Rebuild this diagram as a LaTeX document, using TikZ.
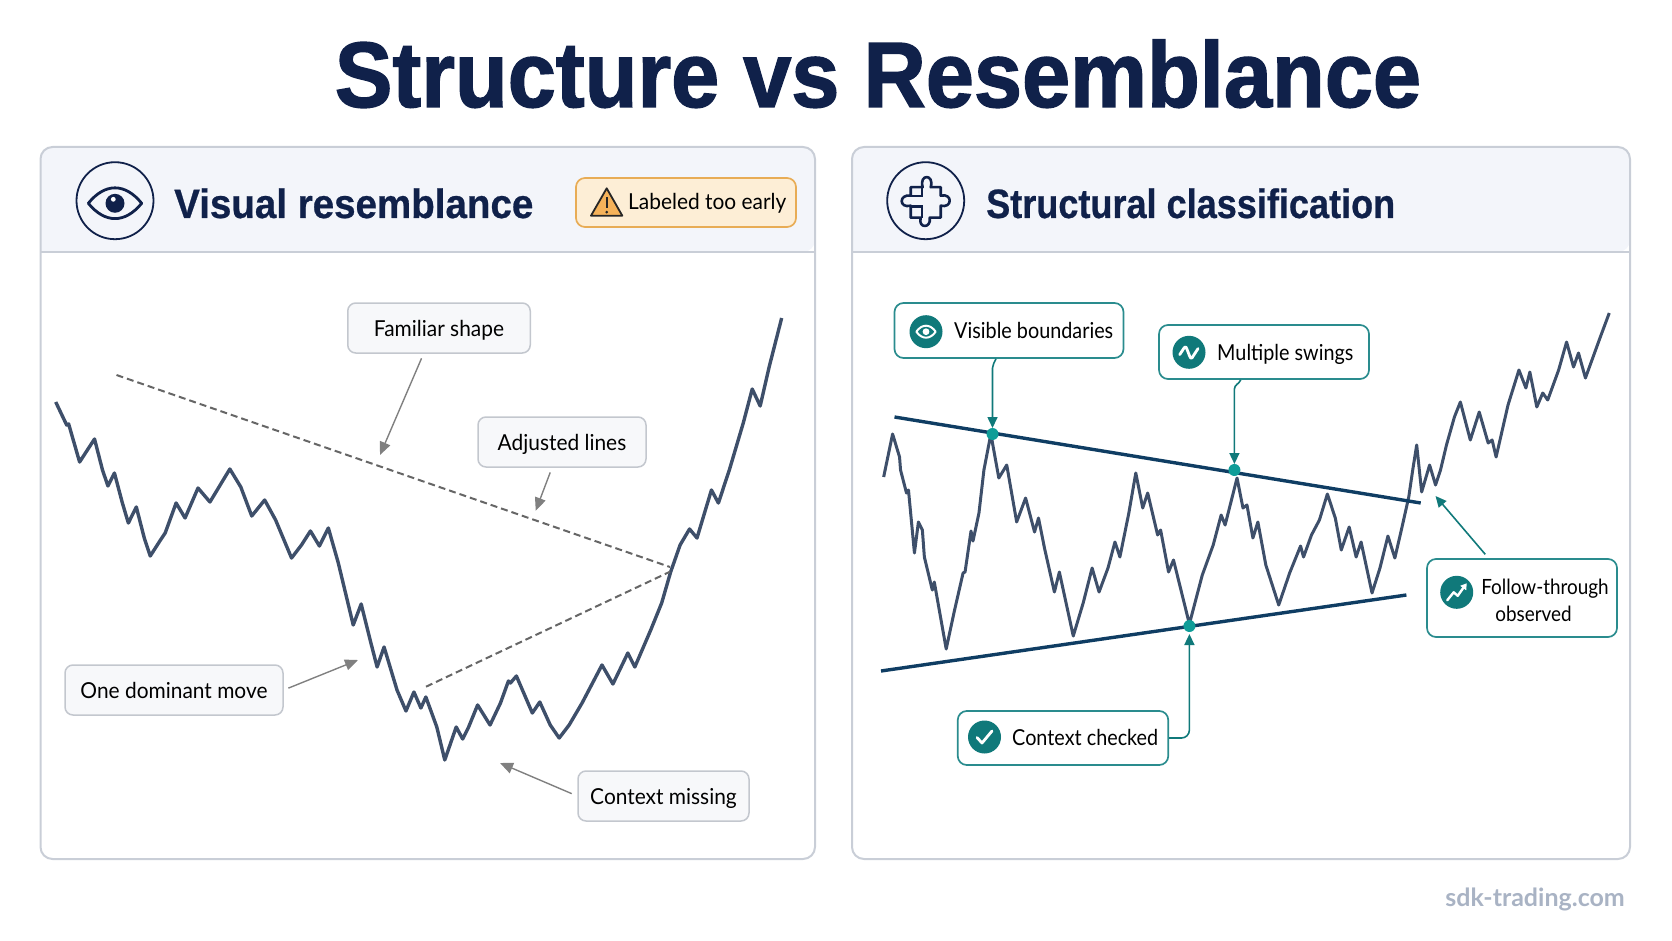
\documentclass[tikz,border=0pt]{standalone}
\usepackage{fontspec}
\setsansfont{Lato}
\newfontfamily\leftfont{Lato}[FakeStretch=0.95]
\newfontfamily\rightfont{Lato}[FakeStretch=0.90]
\newfontfamily\titlefont{Liberation Sans Bold}[FakeStretch=0.93, FakeBold=1.5]
\newfontfamily\headfont{Liberation Sans Bold}[FakeStretch=0.94, FakeBold=0.6]
\newfontfamily\headfontb{Liberation Sans Bold}[FakeStretch=0.88, FakeBold=0.6]
\usetikzlibrary{arrows.meta}
\usetikzlibrary{positioning}
\definecolor{navy}{HTML}{10214A}
\definecolor{inkline}{HTML}{3E4F6A}
\definecolor{trendblue}{HTML}{0F3D63}
\definecolor{tealdark}{HTML}{10797A}
\definecolor{tealedge}{HTML}{2A8C8E}
\definecolor{tealspot}{HTML}{0F9D98}
\definecolor{headbg}{HTML}{F3F5FA}
\definecolor{paneledge}{HTML}{C9CED7}
\definecolor{boxbg}{HTML}{F7F8FA}
\definecolor{boxedge}{HTML}{C3C7CE}
\definecolor{amberbg}{HTML}{FDEED6}
\definecolor{amberedge}{HTML}{E8AC55}
\definecolor{amberfill}{HTML}{F5B25A}
\definecolor{mark}{HTML}{A9B3C4}
\tikzset{every picture/.style={/utils/exec={\sffamily}}}
\tikzset{
  panelbox/.style={draw=paneledge, line width=2pt, rounded corners=12pt, inner sep=0pt},
  iconring/.style={circle, draw=navy, line width=1.8pt, minimum size=77pt, inner sep=0pt},
  headtext/.style={anchor=base west, text=navy, inner sep=0pt},
  plainbox/.style={draw=boxedge, fill=boxbg, line width=1.5pt, rounded corners=8pt, minimum height=50pt, inner sep=0pt, text height=20pt, text depth=3pt, font=\leftfont\fontsize{22}{26}\selectfont},
  tealbox/.style={draw=tealedge, fill=white, line width=1.7pt, rounded corners=9pt, inner sep=0pt},
  tealicon/.style={circle, fill=tealdark, minimum size=33pt, inner sep=0pt},
  tealtext/.style={anchor=base west, inner sep=0pt, font=\rightfont\fontsize{22}{26}\selectfont},
  glyph/.style={draw=white, line width=2.8pt, line cap=round, line join=round},
  priceline/.style={draw=inkline, line width=3.4pt, line join=round},
  trendline/.style={draw=trendblue, line width=3.4pt},
  hintdash/.style={draw=black!60, line width=2pt, dash pattern=on 7pt off 4pt},
  graycall/.style={draw=black!50, line width=1.4pt, -{Triangle[length=13pt, width=11pt]}},
  tealcall/.style={draw=tealdark, line width=1.6pt, -{Triangle[length=11pt, width=10pt]}},
  tealspotdot/.style={circle, fill=tealspot, minimum size=12pt, inner sep=0pt},
}

\begin{document}
\begin{tikzpicture}[x=1pt, y=-1pt]
  \useasboundingbox (0,0) rectangle (1672,941);

  \node [anchor=base, text=navy, inner sep=0pt, font=\titlefont\fontsize{93}{93}\selectfont] (title) at (878,107) {Structure vs Resemblance};

  % left panel
  \fill [headbg] (40.5,252) [rounded corners=12pt] -- (40.5,147) -- (815,147) -- (815,252) [sharp corners] -- cycle;
  \draw [paneledge, line width=2pt] (40.5,252) -- (815,252);
  \node [panelbox, minimum width=774.5pt, minimum height=712pt] (vispanel) at (427.75,503) {};

  \node [iconring] (visring) at (115,200.7) {};
  \begin{scope}[shift={(visring)}]
    \draw [navy, line width=2.8pt, line join=round] (-26.7,2.6) .. controls (-10,-18) and (10,-18) .. (26.7,2.6) .. controls (10,23) and (-10,23) .. cycle;
    \fill [navy] (0,2.6) circle (9.5pt);
    \fill [white] (-1.7,-1.4) circle (2.4pt);
  \end{scope}
  \node [headtext, font=\headfont\fontsize{41}{41}\selectfont] (vistitle) at (174,218) {Visual resemblance};

  \node [draw=amberedge, fill=amberbg, line width=1.7pt, rounded corners=9pt, minimum width=220pt, minimum height=49pt] (early) at (686,202.5) {};
  \draw [fill=amberfill, draw=black!85, line width=1.8pt, line join=round] (606.7,188.3) -- (622.3,215.7) -- (591,215.7) -- cycle;
  \draw [black!85, line width=2.4pt] (606.7,197.5) -- (606.7,208);
  \fill [black!85] (606.7,212.2) circle (1.5pt);
  \node [tealtext, font=\leftfont\fontsize{22}{26}\selectfont] (earlytext) at (628,210) {Labeled too early};

  % chart
  \begin{scope}[x=0.995pt]
    \draw [priceline] (56,402) -- (67,425) -- (69,424) -- (80,462) -- (95,439) -- (103,470) -- (108.5,486) -- (115,473) -- (123,503) -- (129,523) -- (137,507) -- (145,538) -- (151,556) -- (160,542) -- (166,533) -- (177,503) -- (186,518) -- (199,488) -- (211,502) -- (231,469) -- (242,487) -- (253,516) -- (266,500) -- (277,520) -- (293,558) -- (303,545) -- (312,531) -- (321,546) -- (330,528) -- (340,563) -- (355,625) -- (363,604) -- (372,640) -- (379,667) -- (386,647) -- (399,690) -- (408,711) -- (416,692) -- (423,708) -- (428,697) -- (439,727) -- (447,760) -- (458.5,727) -- (465,739) -- (471,727) -- (480,705) -- (492.5,725) -- (503,703) -- (511,681) -- (513,683) -- (519,676) -- (535,713) -- (542.5,702) -- (553,725) -- (562,738) -- (572,725) -- (585,703) -- (605,665) -- (616,684) -- (631,653) -- (638,667) -- (654,630) -- (665,603) -- (674,572) -- (683.5,545) -- (693,529) -- (700.5,538) -- (715,490) -- (722,503) -- (733,470) -- (747,423) -- (756,389) -- (764,406) -- (773,367) -- (785.6,318);
  \end{scope}

  \coordinate (dashtop) at (116.5,375);
  \coordinate (dashlow) at (426,686.7);
  \coordinate (dashmeet) at (670,567);
  \coordinate (dashmeetb) at (670,571.7);
  \draw [hintdash] (dashtop) -- (dashmeet);
  \draw [hintdash] (dashlow) -- (dashmeetb);

  \node [plainbox, minimum width=182.5pt] (fam) at (439,328) {Familiar shape};
  \node [plainbox, minimum width=168pt] (adj) at (562,442) {Adjusted lines};
  \node [plainbox, minimum width=218pt] (dom) at (174,690) {One dominant move};
  \node [plainbox, minimum width=171pt] (ctx) at (663.5,796) {Context missing};

  \coordinate (famtip) at (380,455);
  \coordinate (adjtip) at (535.7,510.7);
  \coordinate (domtip) at (358,660);
  \coordinate (ctxtip) at (500,763);
  \draw [graycall, shorten <=5pt] ([xshift=-15.5pt]fam.south) -- (famtip);
  \draw [graycall, shorten <=5pt] ([xshift=-10pt]adj.south) -- (adjtip);
  \draw [graycall, shorten <=5pt] (dom.east) -- (domtip);
  \draw [graycall, shorten <=6pt] (ctx.west) -- (ctxtip);

  % right panel
  \fill [headbg] (852,252) [rounded corners=12pt] -- (852,147) -- (1630,147) -- (1630,252) [sharp corners] -- cycle;
  \draw [paneledge, line width=2pt] (852,252) -- (1630,252);
  \node [panelbox, minimum width=778pt, minimum height=712pt] (strpanel) at (1241,503) {};

  \node [iconring] (strring) at (925.7,200.7) {};
  \begin{scope}[shift={(strring)}]
    \draw [navy, line width=2.6pt, line join=round] (-3,-13.5) -- (-15,-13.5) -- (-15,-5)
      .. controls (-27,-7) and (-27,8) .. (-15,5) -- (-15,17) -- (-5,17)
      .. controls (-8,28) and (6,28) .. (4,17) -- (15,17) -- (15,5)
      .. controls (27,8) and (27,-8) .. (15,-5) -- (15,-13.5) -- (5,-13.5)
      .. controls (9,-27) and (-7,-27) .. cycle;
    \draw [navy, line width=2.4pt] (-4,-13.5) -- (-4,-4.5) -- (-15,-4.5);
    \draw [navy, line width=2.4pt] (-15,6) -- (-4,6) -- (-4,17);
  \end{scope}
  \node [headtext, font=\headfontb\fontsize{41}{41}\selectfont] (strtitle) at (986,218) {Structural classification};

  % chart
  \begin{scope}[x=0.9926pt, xshift=6.2pt]
    \draw [priceline, line width=3pt] (884,477) -- (893,434) -- (900,457) -- (901,470) -- (907,493) -- (909,490) -- (915,553) -- (919,522) -- (923,530) -- (925,557) -- (933,590) -- (935,582) -- (947,649) -- (955,612) -- (964,573) -- (966,572) -- (972,531) -- (974,541) -- (980,513) -- (985,470) -- (992,434) -- (1000,478) -- (1008,465) -- (1018,522) -- (1027,498) -- (1036,532) -- (1040,518) -- (1046,548) -- (1056,592) -- (1061,572) -- (1075,636) -- (1085,603) -- (1094,568) -- (1101,592) -- (1110,568) -- (1117,542) -- (1122,557) -- (1131,513) -- (1138,473) -- (1145,508) -- (1150,493) -- (1160,535) -- (1163,530) -- (1171,572) -- (1176,560) -- (1192,624) -- (1205,575) -- (1216,545) -- (1224,515) -- (1228,525) -- (1240,478) -- (1246,508) -- (1250,505) -- (1256,538) -- (1261,522) -- (1269,565) -- (1282,605) -- (1293,573) -- (1304,546) -- (1307,557) -- (1315,535) -- (1323,520) -- (1331,494) -- (1339,518) -- (1345,550) -- (1353,527) -- (1360,557) -- (1365,542) -- (1376,593) -- (1384,568) -- (1392,536) -- (1399,558) -- (1406,528) -- (1413,497) -- (1417,470) -- (1421,445) -- (1426,492) -- (1434,465) -- (1440,485) -- (1445,470) -- (1451,445) -- (1459,417) -- (1465,402) -- (1475,440) -- (1484,412) -- (1493,443) -- (1497,440) -- (1501,457) -- (1513,405) -- (1524,370) -- (1531,388) -- (1535,372) -- (1542,407) -- (1548,393) -- (1553,400) -- (1564,370) -- (1572,342) -- (1579,367) -- (1584,353) -- (1591,378) -- (1606,337) -- (1615,313);
  \end{scope}

  \coordinate (upstart) at (894.5,417);
  \coordinate (upend) at (1420.7,503);
  \coordinate (lowstart) at (881,671);
  \coordinate (lowend) at (1406.4,595);
  \draw [trendline] (upstart) -- (upend);
  \draw [trendline] (lowstart) -- (lowend);

  \node [tealspotdot] (visdot) at (992.5,434) {};
  \node [tealspotdot] (mulddot) at (1234.4,470) {};
  \node [tealspotdot] (ctxdot) at (1189.4,626) {};

  \node [tealbox, minimum width=229pt, minimum height=55pt] (vis) at (1009,330.5) {};
  \node [tealicon] (visicon) at (926,331.7) {};
  \begin{scope}[shift={(visicon)}]
    \draw [glyph, line width=2pt] (-9.7,0) .. controls (-4,-8) and (4,-8) .. (9.7,0) .. controls (4,8) and (-4,8) .. cycle;
    \fill [white] (0,0) circle (3.4pt);
  \end{scope}
  \node [tealtext] (vistext) at (954,338.5) {Visible boundaries};

  \node [tealbox, minimum width=210pt, minimum height=54pt] (mul) at (1264,352) {};
  \node [tealicon] (mulicon) at (1189,352.3) {};
  \begin{scope}[shift={(mulicon)}]
    \draw [glyph] (-9.3,2.3) -- (-5.5,-3.5) .. controls (-4,-6) and (-3,-6) .. (-2,-3) -- (0.5,3.5) .. controls (1.5,6.5) and (3,6.5) .. (4,4) -- (9,-3.7);
  \end{scope}
  \node [tealtext] (multext) at (1217,360) {Multiple swings};

  \node [tealbox, minimum width=210.5pt, minimum height=54pt] (chk) at (1063,738) {};
  \node [tealicon] (chkicon) at (984.5,737) {};
  \begin{scope}[shift={(chkicon)}]
    \draw [glyph] (-7.5,0.5) -- (-2.5,6) -- (7.5,-6);
  \end{scope}
  \node [tealtext] (chktext) at (1012,745.5) {Context checked};

  \node [tealbox, minimum width=190pt, minimum height=78pt] (fol) at (1522,598) {};
  \node [tealicon] (folicon) at (1456.7,592.3) {};
  \begin{scope}[shift={(folicon)}]
    \draw [glyph, line width=2.4pt] (-9.5,8) -- (-3,0) -- (1,3.5) -- (7,-5);
    \fill [white] (10,-9) -- (9.5,-2) -- (3.5,-6.5) -- cycle;
  \end{scope}
  \node [inner sep=0pt, align=center, font=\rightfont\fontsize{21}{27}\selectfont] (foltext) at (1545,600) {Follow-through\\observed\hspace*{23pt}};

  \coordinate (visbend) at (992.5,368);
  \coordinate (vistip) at (992.5,428);
  \coordinate (mulbend) at (1234.4,389);
  \coordinate (multip) at (1234.4,464);
  \coordinate (chktip) at (1189.4,634);
  \coordinate (foltip) at (1435.5,496);
  \draw [tealcall] ([xshift=-13pt]vis.south) to [out=-110, in=90] (visbend) -- (vistip);
  \draw [tealcall] ([xshift=-23.3pt]mul.south) to [out=-110, in=90] (mulbend) -- (multip);
  \draw [tealcall, rounded corners=8pt] (chk.east) -| (chktip);
  \draw [tealcall, shorten <=5pt] ([xshift=-33.5pt]fol.north) -- (foltip);

  \node [anchor=base east, text=mark, inner sep=0pt, font=\bfseries\fontsize{25}{25}\selectfont] (site) at (1625,906) {sdk-trading.com};
\end{tikzpicture}
\end{document}
